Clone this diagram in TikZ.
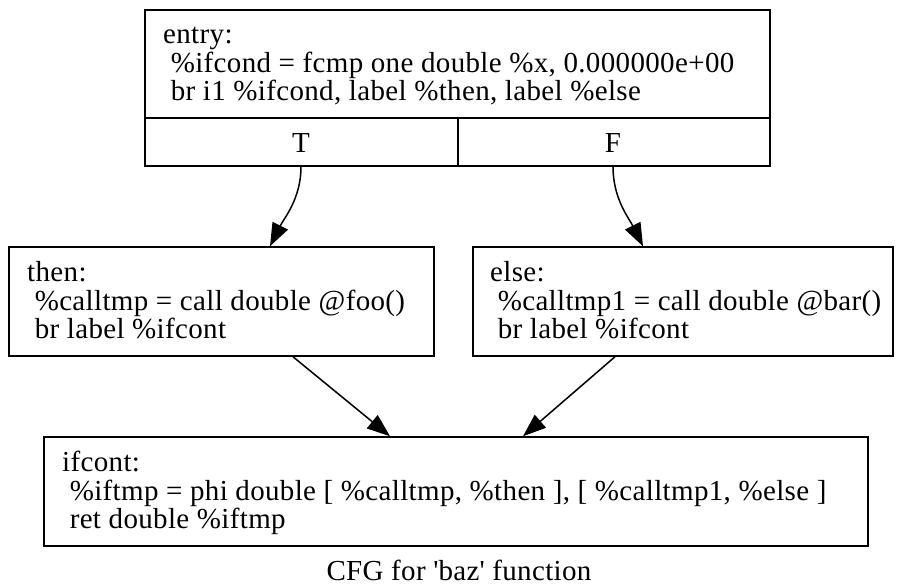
\documentclass[tikz,border=0pt]{standalone}
\usepackage{fontspec}
\setmainfont{Liberation Serif}[LetterSpace=1.2]
\usetikzlibrary{arrows.meta}
\begin{document}
\begin{tikzpicture}[x=1pt,y=-1pt,
  box/.style={draw,line width=1.5pt,inner sep=0pt,minimum width=#1,minimum height=109pt},
  txt/.style={anchor=base west,inner sep=0pt,font=\fontsize{29}{34}\selectfont},
  lab/.style={inner sep=0pt,font=\fontsize{29}{34}\selectfont},
  edge/.style={line width=1.5pt,-{Triangle[length=23pt,width=17pt]}}]
\useasboundingbox (0,0) rectangle (902,587);
\fill[white] (0,0) rectangle (902,587);

% basic blocks
\node[box=625pt,minimum height=156pt] (entry) at (457.5,88) {};
\node[box=425pt] (then) at (221.5,301.5) {};
\node[box=420pt] (else) at (683,301.5) {};
\node[box=824pt] (ifcont) at (456,491.5) {};

% branch ports of the entry block
\draw[line width=1.5pt] (entry.west |- 0,118) -- (entry.east |- 0,118);
\draw[line width=1.5pt] (458,118) -- (entry.south -| 458,0);
\node[lab] (T) at (301,143) {T};
\node[lab] (F) at (613,143) {F};

% block contents
\node[txt] (e1) at (163,43.5) {entry:};
\node[txt] (e2) at (163,72) {\ \%ifcond = fcmp one double \%x, 0.000000e+00};
\node[txt] (e3) at (163,100.5) {\ br i1 \%ifcond, label \%then, label \%else};

\node[txt] (t1) at (27,281.5) {then:};
\node[txt] (t2) at (27,310) {\ \%calltmp = call double @foo()};
\node[txt] (t3) at (27,338.5) {\ br label \%ifcont};

\node[txt] (l1) at (490,281.5) {else:};
\node[txt] (l2) at (490,310) {\ \%calltmp1 = call double @bar()};
\node[txt] (l3) at (490,338.5) {\ br label \%ifcont};

\node[txt] (i1) at (62,471.5) {ifcont:};
\node[txt] (i2) at (62,500) {\ \%iftmp = phi double [ \%calltmp, \%then ], [ \%calltmp1, \%else ]};
\node[txt] (i3) at (62,528.5) {\ ret double \%iftmp};

\node[lab,anchor=base] (cap) at (459,580) {CFG for \textquotesingle baz\textquotesingle{} function};

% control-flow edges
\draw[edge] (entry.south -| T) .. controls ++(0,32) and ++(14,-28) .. ([xshift=48.5pt]then.north);
\draw[edge] (entry.south -| F) .. controls ++(0,32) and ++(-14,-28) .. ([xshift=-40pt]else.north);
\draw[edge] ([xshift=71.5pt]then.south) -- ([xshift=-66pt]ifcont.north);
\draw[edge] ([xshift=-68pt]else.south) -- ([xshift=67pt]ifcont.north);
\end{tikzpicture}
\end{document}
